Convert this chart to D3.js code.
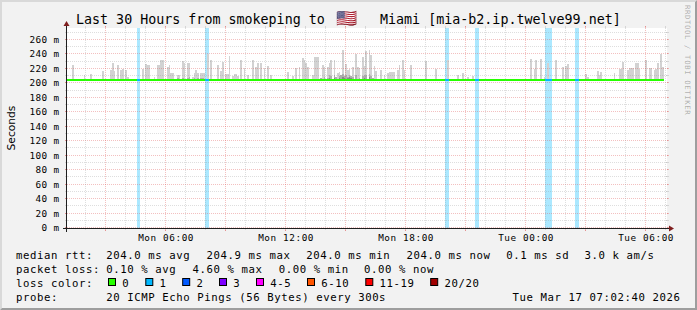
<!DOCTYPE html>
<html><head><meta charset="utf-8">
<script src="https://cdn.jsdelivr.net/npm/d3@7"></script>
<style>
html,body{margin:0;padding:0;background:#f2f2f2;}
svg{display:block;}
text{font-family:"DejaVu Sans Mono",monospace;}
</style>
</head><body>
<svg id="chart" width="697" height="310"></svg>
<script>
// ---------------- data ----------------
const titleText = "Last 30 Hours from smokeping to";
const titleFlag = "🇺🇸";
const titleRest = " Miami [mia-b2.ip.twelve99.net]";
const yAxisTitle = "Seconds";
const watermark = "RRDTOOL / TOBI OETIKER";
const startTime = new Date(2026, 2, 16, 1, 2, 40);
const endTime = new Date(2026, 2, 17, 7, 2, 40);
const stepSeconds = 300;
const stepCount = 358;
const yMaxMs = 276.6;
const yMajorTicks = [0, 20, 40, 60, 80, 100, 120, 140, 160, 180, 200, 220, 240, 260];
const yMinorTicks = [10, 30, 50, 70, 90, 110, 130, 150, 170, 190, 210, 230, 250, 270];
const medianMs = 204.0;
const smokeBaseMs = 204.0;
// [step index, ms] : highest ping of the step (light smoke)
const smokeMax = [[3,225.0],[5,206],[10,211.2],[14,213.0],[19,206],[20,206],[21,217.6],[26,218.5],[27,228.7],[28,217],[30,225],[32,218.5],[33,219.4],[35,218.5],[36,209.3],[45,219.4],[47,226.8],[48,225],[49,225],[52,208.4],[54,225],[55,225],[56,232.3],[57,232],[60,222.2],[61,225.9],[62,214],[63,214],[66,212],[67,212],[69,230.5],[70,227.7],[72,228.7],[73,228.7],[75,209.3],[76,214],[77,218.5],[78,214],[80,214.8],[81,214.8],[82,213.9],[84,240],[86,232.3],[90,225],[92,217.6],[93,229.6],[95,213],[96,213],[97,237.9],[99,210.2],[100,213],[101,213],[102,210.2],[104,232.3],[106,221.3],[108,212.1],[111,232.3],[113,222.2],[114,227.7],[116,228.7],[118,221.3],[120,224],[122,211.2],[132,215.8],[135,210.2],[137,221.3],[139,223.1],[141,235.1],[142,232.3],[143,227.7],[144,223.1],[147,211.2],[148,236.9],[149,236.9],[150,236.9],[153,225],[154,222.2],[156,223.1],[157,228.7],[158,232.3],[160,232.3],[162,213.9],[163,215.8],[165,246],[167,226.8],[168,218.5],[169,220.4],[171,223.1],[173,240.6],[174,223.1],[175,221.3],[177,236.9],[178,224],[179,245.3],[181,246],[182,238.8],[184,224],[185,216.7],[188,218.5],[190,211.2],[192,213.9],[193,215.8],[194,215.8],[195,215.8],[196,215.8],[198,218.5],[199,225],[201,232.3],[202,218.5],[206,225.9],[211,205.6],[215,230.5],[221,220.4],[228,232],[234,212.1],[237,214.8],[240,208.4],[243,210.2],[252,205.6],[258,205.6],[269,205.6],[278,233.3],[280,220.4],[281,232.3],[284,234.2],[286,209.3],[288,228],[293,232.3],[297,223.1],[299,224],[300,226.8],[311,213],[312,209.3],[318,217.6],[319,211.2],[320,215.8],[328,214.8],[331,219.4],[332,219.4],[333,229.6],[336,218.5],[337,221.3],[338,221.3],[339,221.3],[341,228.7],[342,228.7],[343,219.4],[347,232.3],[349,221.3],[350,221.3],[352,218.5],[353,220.4],[354,228.7],[356,240.6],[357,223.1]];
// denser middle smoke
const smokeMid = [[66,207],[69,208],[72,208],[73,209],[76,207],[78,208],[80,208],[81,207],[152,207],[154,209],[156,208],[157,211],[158,210],[160,212],[161,209],[163,210],[164,212],[165,213],[166,210],[167,211],[168,209],[169,212],[170,210],[171,209],[173,211],[175,208],[177,210],[178,212],[179,211],[181,213],[182,210],[183,208]];
// darkest core smoke
const smokeCore = [[157,207],[160,208],[163,207],[165,209],[166,208],[168,207],[169,209],[170,208],[178,208],[181,209]];
// [step index, lost pings of 20]
const lossSteps = [[42,1],[43,1],[83,1],[84,1],[227,1],[228,1],[245,1],[246,1],[287,1],[288,1],[289,1],[290,1],[305,1],[306,1]];
const lossLevels = [0, 1, 2, 3, 5, 10, 19, 20];
const lossLabels = ["0", "1", "2", "3", "4-5", "6-10", "11-19", "20/20"];
const lossColors = ["#26ff00", "#00b8ff", "#0059ff", "#7e00ff", "#ff00ff", "#ff5500", "#ff0000", "#a00000"];
const rttHeader = "median rtt:";
const rttLabels = ["204.0 ms avg", "204.9 ms max", "204.0 ms min", "204.0 ms now", "0.1 ms sd", "3.0 k am/s"];
const lossHeader = "packet loss:";
const lossStatLabels = ["0.10 % avg", "4.60 % max", "0.00 % min", "0.00 % now"];
const colorHeader = "loss color:";
const probeHeader = "probe:";
const probeText = "20 ICMP Echo Pings (56 Bytes) every 300s";
const stampText = "Tue Mar 17 07:02:40 2026";

// ---------------- layout ----------------
const W = 697, H = 310;
const X0 = 67, X1 = 667, Y0 = 228, Y1 = 28;
const svg = d3.select("#chart");

const x = d3.scaleTime().domain([startTime, endTime]).range([X0, X1]);
const y = d3.scaleLinear().domain([0, yMaxMs]).range([Y0, Y1]);
const stepTime = i => new Date(startTime.getTime() + i * stepSeconds * 1000);
const sx = i => x(stepTime(i));

// background + 3d frame
svg.append("rect").attr("width", W).attr("height", H).attr("fill", "#f2f2f2");
svg.append("path").attr("d", `M0,${H} L2,${H-2} L2,2 L${W-2},2 L${W},0 L0,0 Z`).attr("fill", "#d9d9d9");
svg.append("path").attr("d", `M2,${H-2} L${W-2},${H-2} L${W-2},2 L${W},0 L${W},${H} L0,${H} Z`).attr("fill", "#9e9e9e");
// canvas
svg.append("rect").attr("x", X0).attr("y", Y1).attr("width", X1 - X0).attr("height", Y0 - Y1).attr("fill", "#ffffff");

const gData = svg.append("g").attr("shape-rendering", "crispEdges");
const lossOf = new Map(lossSteps.map(d => [d[0], d[1]]));
const lossColor = n => lossColors[lossLevels.findIndex(l => n <= l)];

// loss background bands
gData.selectAll("rect.loss").data(lossSteps).join("rect")
  .attr("x", d => sx(d[0])).attr("width", d => sx(d[0] + 1) - sx(d[0]))
  .attr("y", Y1).attr("height", Y0 - Y1)
  .attr("fill", d => lossColor(d[1])).attr("fill-opacity", 0.33);

function smoke(data, color) {
  gData.append("g").selectAll("rect").data(data).join("rect")
    .attr("x", d => sx(d[0])).attr("width", d => sx(d[0] + 1) - sx(d[0]))
    .attr("y", d => y(d[1])).attr("height", d => y(smokeBaseMs) - y(d[1]))
    .attr("fill", color);
}
smoke(smokeMax, "#d2d2d2");
smoke(smokeMid, "#aeaeae");
smoke(smokeCore, "#888888");

// median line coloured by loss
const runs = [];
for (let i = 0; i < stepCount; i++) {
  const c = lossColor(lossOf.get(i) || 0);
  if (runs.length && runs[runs.length - 1].c === c) runs[runs.length - 1].e = i + 1;
  else runs.push({s: i, e: i + 1, c});
}
const yMed = Math.round(y(medianMs) - 1);
gData.append("g").selectAll("rect").data(runs).join("rect")
  .attr("x", d => sx(d.s)).attr("width", d => sx(d.e) - sx(d.s))
  .attr("y", yMed).attr("height", 2).attr("fill", d => d.c);

// ---------------- grid (drawn on top like rrdtool) ----------------
const gGrid = svg.append("g");
const GRID = "rgba(143,143,143,0.75)", MGRID = "rgba(222,79,79,0.6)";
const row = v => Math.round(y(v)) - 0.5;
const col = t => Math.round(x(t)) - 0.5;
function hline(x1, x2, yy, color, w, dash) {
  gGrid.append("line").attr("x1", x1).attr("x2", x2).attr("y1", yy).attr("y2", yy)
    .attr("stroke", color).attr("stroke-width", w).attr("stroke-dasharray", dash || null);
}
function vline(xx, y1, y2, color, w, dash) {
  gGrid.append("line").attr("x1", xx).attr("x2", xx).attr("y1", y1).attr("y2", y2)
    .attr("stroke", color).attr("stroke-width", w).attr("stroke-dasharray", dash || null);
}
yMinorTicks.filter(v => v <= yMaxMs).forEach(v => {
  const r = row(v);
  hline(X0 - 2, X0 + 1, r, GRID, 0.4);
  hline(X1 - 1, X1 + 2, r, GRID, 0.4);
  hline(X0 - 1, X1 + 1, r, GRID, 0.4, "1,1");
});
yMajorTicks.forEach(v => {
  const r = row(v);
  hline(X0 - 2, X0, r, MGRID, 0.6);
  hline(X1, X1 + 2, r, MGRID, 0.6);
  hline(X0 - 2, X1 + 2, r, MGRID, 0.6, "1,1");
});
const hours = d3.timeHour.every(1).range(startTime, endTime);
hours.forEach(t => {
  const c = col(t);
  if (t.getHours() % 3 !== 0) {
    vline(c, Y1 - 2, Y1, GRID, 0.4);
    vline(c, Y0, Y0 + 2, GRID, 0.4);
    vline(c, Y0 + 1, Y1 - 1, GRID, 0.4, "1,1");
  } else {
    vline(c, Y1 - 2, Y1, MGRID, 0.6);
    vline(c, Y0, Y0 + 3, MGRID, 0.6);
    vline(c, Y0 + 3, Y1 - 2, MGRID, 0.6, "1,1");
  }
});

// axes
const gAxis = svg.append("g");
gAxis.append("line").attr("x1", X0 - 4).attr("x2", X1 + 4).attr("y1", Y0 + 0.5).attr("y2", Y0 + 0.5)
  .attr("stroke", "#1f1f1f").attr("stroke-width", 1);
gAxis.append("line").attr("x1", X0 - 0.5).attr("x2", X0 - 0.5).attr("y1", Y0 + 4).attr("y2", Y1 - 4)
  .attr("stroke", "#1f1f1f").attr("stroke-width", 1);
gAxis.append("path").attr("d", `M${X1+2},${Y0-2.5} L${X1+2},${Y0+3.5} L${X1+7},${Y0+0.5} Z`).attr("fill", "#7f1f1f");
gAxis.append("path").attr("d", `M${X0-3.5},${Y1-2} L${X0+2.5},${Y1-2} L${X0-0.5},${Y1-7} Z`).attr("fill", "#7f1f1f");

// axis labels
const gLab = svg.append("g").attr("fill", "#000");
gLab.selectAll("text.yl").data(yMajorTicks).join("text")
  .attr("x", 59.5).attr("y", v => row(v) + 3.7).attr("text-anchor", "end")
  .attr("font-size", "9.33px").attr("letter-spacing", "0.38px")
  .text(v => `${v} m`);
const fmt = d3.timeFormat("%a %H:%M");
gLab.selectAll("text.xl").data(hours.filter(t => t.getHours() % 6 === 0)).join("text")
  .attr("x", t => x(t)).attr("y", 241).attr("text-anchor", "middle")
  .attr("font-size", "9.33px").attr("letter-spacing", "0.6px")
  .text(t => fmt(t));
svg.append("text").attr("transform", `translate(14.6,${(Y0 + Y1) / 2}) rotate(-90)`)
  .attr("text-anchor", "middle").style("font-family", "'DejaVu Sans',sans-serif")
  .attr("font-size", "10.67px").text(yAxisTitle);

// title
const title = svg.append("text").attr("y", 24).attr("font-size", "13.33px");
title.append("tspan").attr("x", 76).text(titleText);
title.append("tspan").attr("x", 336).attr("font-size", "17px").attr("letter-spacing", "2px").text(titleFlag);
title.append("tspan").attr("x", 372).text(titleRest);

// watermark
svg.append("text").attr("transform", "translate(684.6,5) rotate(90)")
  .attr("font-size", "7.33px").attr("letter-spacing", "0.6px").attr("fill", "rgba(0,0,0,0.3)")
  .text(watermark);

// legend
const gLeg = svg.append("g").attr("font-size", "10.67px").attr("letter-spacing", "0.58px").attr("fill", "#000");
const leftX = 16;
const rttX = [106.3, 206.6, 306.3, 406.6, 506.3, 584.5];
const lossX = [106.3, 192.5, 278.7, 364];
const swX = [108, 145.3, 182.2, 219, 256, 307, 365.3, 430.2];
const lineY = [258.5, 272.5, 286.5, 300.5];
gLeg.append("text").attr("x", leftX).attr("y", lineY[0]).text(rttHeader);
rttLabels.forEach((s, i) => gLeg.append("text").attr("x", rttX[i]).attr("y", lineY[0]).text(s));
gLeg.append("text").attr("x", leftX).attr("y", lineY[1]).text(lossHeader);
lossStatLabels.forEach((s, i) => gLeg.append("text").attr("x", lossX[i]).attr("y", lineY[1]).text(s));
gLeg.append("text").attr("x", leftX).attr("y", lineY[2]).text(colorHeader);
lossLabels.forEach((s, i) => {
  gLeg.append("rect").attr("x", swX[i] + 0.5).attr("y", 278.5).attr("width", 7).attr("height", 7)
    .attr("fill", lossColors[i]).attr("stroke", "#000").attr("stroke-width", 1);
  gLeg.append("text").attr("x", swX[i] + 14.3).attr("y", lineY[2]).text(s);
});
gLeg.append("text").attr("x", leftX).attr("y", lineY[3]).text(probeHeader);
gLeg.append("text").attr("x", 106.3).attr("y", lineY[3]).text(probeText);
gLeg.append("text").attr("x", 680.5).attr("y", lineY[3]).attr("text-anchor", "end").text(stampText);
</script>
</body></html>
